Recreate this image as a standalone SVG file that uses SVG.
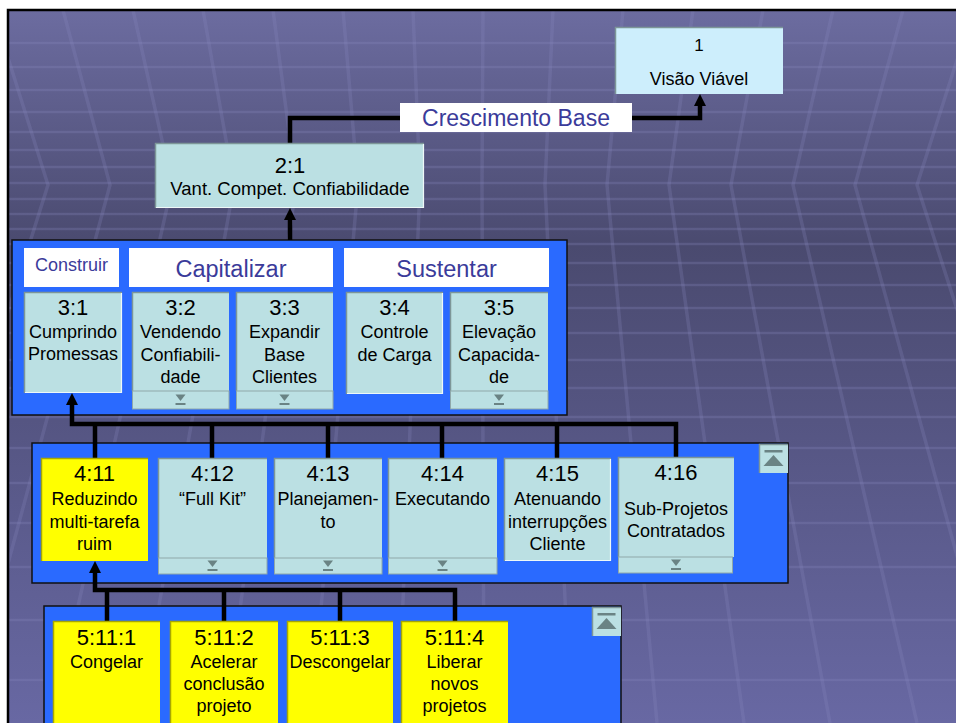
<svg xmlns="http://www.w3.org/2000/svg" width="956" height="723" viewBox="0 0 956 723">
<defs>
<linearGradient id="bg" x1="0" y1="0" x2="0" y2="1">
<stop offset="0" stop-color="#6c6ca0"/>
<stop offset="0.33" stop-color="#4a4a6f"/>
<stop offset="1" stop-color="#6868a3"/>
</linearGradient>
<marker id="arr" markerUnits="userSpaceOnUse" markerWidth="12" markerHeight="12" refX="2" refY="6" orient="auto">
<path d="M0,0 L12,6 L0,12 z" fill="#000"/>
</marker>
<g id="tabmark"><path d="M-5,0 L5,0 L0,6.5 z"/><rect x="-5" y="8.5" width="10" height="2"/></g>
<g id="upmark"><rect x="-9" y="4" width="18" height="2.5"/><path d="M-10,20 L10,20 L0,9 z"/></g>
<clipPath id="slide"><rect x="8" y="10" width="948" height="713"/></clipPath>
</defs>
<style>
.box{fill:#bbe0e3}
.box1{fill:#cdeefc}
.yel{fill:#ffff00}
.ed{fill:none;stroke:#7d9698;stroke-width:1.5}
.el{fill:none;stroke:#eef8f8;stroke-width:1.2}
.edy{fill:none;stroke:#a8a800;stroke-width:1.5}
.tab{fill:#bbe0e3;stroke:#8fa8aa;stroke-width:1}
.mk{fill:#6a8384}
.panel{fill:#2a6aff;stroke:#111;stroke-width:1.5}
.hdr{fill:#fff}
.t{font-family:"Liberation Sans",Arial,Helvetica,sans-serif;text-anchor:middle;fill:#000}
.num{font-size:22px}
.d{font-size:18px}
.h{fill:#3b3b9a}
.conn path{stroke:#000;stroke-width:4.5;fill:none;stroke-linejoin:miter}
.grid line{stroke:#8a8ac0;stroke-opacity:0.28}
</style>

<g id="background">
<rect x="0" y="0" width="956" height="723" fill="#fff"/>
<rect x="8" y="10" width="948" height="713" fill="url(#bg)"/>
<g class="grid" clip-path="url(#slide)" stroke-width="2.5">
<line x1="8" y1="43" x2="956" y2="43"/><line x1="8" y1="67" x2="956" y2="67"/>
<line x1="8" y1="90" x2="956" y2="90"/><line x1="8" y1="112" x2="956" y2="112"/>
<line x1="8" y1="132" x2="956" y2="132"/><line x1="8" y1="150" x2="956" y2="150"/>
<line x1="8" y1="167" x2="956" y2="167"/><line x1="8" y1="183" x2="956" y2="183"/>
<line x1="8" y1="199" x2="956" y2="199"/><line x1="8" y1="214" x2="956" y2="214"/>
<line x1="8" y1="229" x2="956" y2="229"/><line x1="8" y1="244" x2="956" y2="244"/>
<line x1="8" y1="263" x2="956" y2="263"/><line x1="8" y1="285" x2="956" y2="285"/>
<line x1="8" y1="308" x2="956" y2="308"/><line x1="8" y1="333" x2="956" y2="333"/>
<line x1="8" y1="360" x2="956" y2="360"/><line x1="8" y1="388" x2="956" y2="388"/>
<line x1="8" y1="417" x2="956" y2="417"/><line x1="8" y1="448" x2="956" y2="448"/>
<line x1="8" y1="483" x2="956" y2="483"/><line x1="8" y1="523" x2="956" y2="523"/>
<line x1="8" y1="567" x2="956" y2="567"/><line x1="8" y1="620" x2="956" y2="620"/>
<line x1="8" y1="680" x2="956" y2="680"/>
</g>
<g clip-path="url(#slide)" fill="none" stroke="#8a8ac0" stroke-opacity="0.24" stroke-width="3.5">
<polyline points="-7,10 48,185 -122,723"/>
<polyline points="63,10 110,185 -35,723"/>
<polyline points="133,10 172,185 52,723"/>
<polyline points="203,10 234,185 138,723"/>
<polyline points="273,10 296,185 225,723"/>
<polyline points="343,10 358,185 311,723"/>
<polyline points="413,10 420,185 398,723"/>
<polyline points="483,10 482,185 484,723"/>
<polyline points="553,10 545,185 571,723"/>
<polyline points="623,10 607,185 657,723"/>
<polyline points="693,10 669,185 744,723"/>
<polyline points="763,10 731,185 830,723"/>
<polyline points="833,10 793,185 917,723"/>
<polyline points="903,10 855,185 1003,723"/>
<polyline points="973,10 917,185 1090,723"/>
</g>
<path d="M8,723 V10 H956" fill="none" stroke="#000" stroke-width="2.5"/>
</g>

<g id="panel3"><rect class="panel" x="12" y="240" width="555" height="175"/></g>
<g id="panel4"><rect class="panel" x="32" y="443" width="756" height="140"/>
<rect class="box" x="759" y="444" width="29" height="29"/><path class="ed" d="M759.5,473 V444.5 H788"/>
<use href="#upmark" class="mk" x="773.5" y="446"/></g>
<g id="panel5"><rect class="panel" x="44" y="606" width="577" height="130"/>
<rect class="box" x="592" y="607" width="29" height="29"/><path class="ed" d="M592.5,636 V607.5 H621"/>
<use href="#upmark" class="mk" x="606.5" y="609"/></g>

<g id="connectors" class="conn">
<path d="M290,240 V218" marker-end="url(#arr)"/>
<path d="M290,143 V118 H700 V104" marker-end="url(#arr)"/>
<path d="M676,457 V424 H72 V403" marker-end="url(#arr)"/>
<path d="M95,458 V424"/><path d="M212,458 V424"/><path d="M328,458 V424"/>
<path d="M442,458 V424"/><path d="M557,458 V424"/>
<path d="M455,621 V590 H95 V571" marker-end="url(#arr)"/>
<path d="M107,621 V590"/><path d="M224,621 V590"/><path d="M340,621 V590"/>
</g>

<g id="label-crescimento"><rect class="hdr" x="400" y="103" width="232" height="29"/>
<text class="t h" x="516" y="126" font-size="23">Crescimento Base</text></g>

<g id="node-1"><rect class="box1" x="615" y="27" width="168" height="67"/><path class="ed" d="M615.5,94 V27.5 H783"/>
<text class="t" x="699" y="51" font-size="17">1</text>
<text class="t" x="699" y="85" font-size="18">Visão Viável</text></g>

<g id="node-2-1"><rect class="box" x="155" y="143" width="269" height="65"/><path class="ed" d="M155.5,208 V143.5 H424"/><path class="el" d="M156,207.5 H423.5 V144"/>
<text class="t num" x="290" y="173">2:1</text>
<text class="t" x="290" y="195" font-size="18.5">Vant. Compet. Confiabilidade</text></g>

<g id="hdr-construir"><rect class="hdr" x="24" y="248" width="95" height="39"/><text class="t h" x="71.5" y="271" font-size="18">Construir</text></g>
<g id="hdr-capitalizar"><rect class="hdr" x="129" y="248" width="204" height="39"/><text class="t h" x="231" y="277" font-size="23.5">Capitalizar</text></g>
<g id="hdr-sustentar"><rect class="hdr" x="344" y="248" width="205" height="39"/><text class="t h" x="446.5" y="277" font-size="23.5">Sustentar</text></g>

<g id="node-3-1"><rect class="box" x="24" y="292" width="98" height="101"/><path class="ed" d="M24.5,393 V292.5 H122"/><path class="el" d="M25,392.5 H121.5 V293"/>
<text class="t num" x="73" y="315">3:1</text><text class="t d" x="73" y="338">Cumprindo</text><text class="t d" x="73" y="360">Promessas</text></g>

<g id="node-3-2"><rect class="box" x="132" y="292" width="97" height="99"/><path class="ed" d="M132.5,391 V292.5 H229"/>
<rect class="tab" x="132.5" y="391" width="96.5" height="18"/><use href="#tabmark" class="mk" x="180.5" y="394.5"/>
<text class="t num" x="180.5" y="315">3:2</text><text class="t d" x="180.5" y="338">Vendendo</text><text class="t d" x="180.5" y="361">Confiabili-</text><text class="t d" x="180.5" y="383">dade</text></g>

<g id="node-3-3"><rect class="box" x="236" y="292" width="97" height="99"/><path class="ed" d="M236.5,391 V292.5 H333"/>
<rect class="tab" x="236.5" y="391" width="96.5" height="18"/><use href="#tabmark" class="mk" x="284.5" y="394.5"/>
<text class="t num" x="284.5" y="315">3:3</text><text class="t d" x="284.5" y="338">Expandir</text><text class="t d" x="284.5" y="361">Base</text><text class="t d" x="284.5" y="383">Clientes</text></g>

<g id="node-3-4"><rect class="box" x="346" y="292" width="97" height="102"/><path class="ed" d="M346.5,394 V292.5 H443"/><path class="el" d="M347,393.5 H442.5 V293"/>
<text class="t num" x="394.5" y="315">3:4</text><text class="t d" x="394.5" y="338">Controle</text><text class="t d" x="394.5" y="361">de Carga</text></g>

<g id="node-3-5"><rect class="box" x="450" y="292" width="98" height="99"/><path class="ed" d="M450.5,391 V292.5 H548"/>
<rect class="tab" x="450.5" y="391" width="97.5" height="18"/><use href="#tabmark" class="mk" x="499" y="394.5"/>
<text class="t num" x="499" y="315">3:5</text><text class="t d" x="499" y="338">Elevação</text><text class="t d" x="499" y="361">Capacida-</text><text class="t d" x="499" y="383">de</text></g>

<g id="node-4-11"><rect class="yel" x="41" y="458" width="107" height="103"/><path class="edy" d="M41.5,561 V458.5 H148"/>
<text class="t num" x="94.5" y="481">4:11</text><text class="t d" x="94.5" y="505">Reduzindo</text><text class="t d" x="94.5" y="528">multi-tarefa</text><text class="t d" x="94.5" y="550">ruim</text></g>

<g id="node-4-12"><rect class="box" x="158" y="458" width="109" height="100"/><path class="ed" d="M158.5,558 V458.5 H267"/>
<rect class="tab" x="158.5" y="558" width="108.5" height="16"/><use href="#tabmark" class="mk" x="212.5" y="560.5"/>
<text class="t num" x="212.5" y="481">4:12</text><text class="t d" x="212.5" y="505">“Full Kit”</text></g>

<g id="node-4-13"><rect class="box" x="274" y="458" width="108" height="100"/><path class="ed" d="M274.5,558 V458.5 H382"/>
<rect class="tab" x="274.5" y="558" width="107.5" height="16"/><use href="#tabmark" class="mk" x="328" y="560.5"/>
<text class="t num" x="328" y="481">4:13</text><text class="t d" x="328" y="505">Planejamen-</text><text class="t d" x="328" y="528">to</text></g>

<g id="node-4-14"><rect class="box" x="388" y="458" width="109" height="100"/><path class="ed" d="M388.5,558 V458.5 H497"/>
<rect class="tab" x="388.5" y="558" width="108.5" height="16"/><use href="#tabmark" class="mk" x="442.5" y="560.5"/>
<text class="t num" x="442.5" y="481">4:14</text><text class="t d" x="442.5" y="505">Executando</text></g>

<g id="node-4-15"><rect class="box" x="504" y="458" width="107" height="103"/><path class="ed" d="M504.5,561 V458.5 H611"/><path class="el" d="M505,560.5 H610.5 V459"/>
<text class="t num" x="557.5" y="481">4:15</text><text class="t d" x="557.5" y="505">Atenuando</text><text class="t d" x="557.5" y="528">interrupções</text><text class="t d" x="557.5" y="550">Cliente</text></g>

<g id="node-4-16"><rect class="box" x="618" y="457" width="116" height="100"/><path class="ed" d="M618.5,557 V457.5 H734"/>
<rect class="tab" x="618.5" y="557" width="114" height="16"/><use href="#tabmark" class="mk" x="676" y="559.5"/>
<text class="t num" x="676" y="480">4:16</text><text class="t d" x="676" y="515">Sub-Projetos</text><text class="t d" x="676" y="537">Contratados</text></g>

<g id="node-5-11-1"><rect class="yel" x="53" y="621" width="107" height="110"/><path class="edy" d="M53.5,731 V621.5 H160"/>
<text class="t num" x="106.5" y="645">5:11:1</text><text class="t d" x="106.5" y="668">Congelar</text></g>

<g id="node-5-11-2"><rect class="yel" x="170" y="621" width="108" height="110"/><path class="edy" d="M170.5,731 V621.5 H278"/>
<text class="t num" x="224" y="645">5:11:2</text><text class="t d" x="224" y="668">Acelerar</text><text class="t d" x="224" y="690">conclusão</text><text class="t d" x="224" y="712">projeto</text></g>

<g id="node-5-11-3"><rect class="yel" x="287" y="621" width="106" height="110"/><path class="edy" d="M287.5,731 V621.5 H393"/>
<text class="t num" x="340" y="645">5:11:3</text><text class="t d" x="340" y="668">Descongelar</text></g>

<g id="node-5-11-4"><rect class="yel" x="401" y="621" width="107" height="110"/><path class="edy" d="M401.5,731 V621.5 H508"/>
<text class="t num" x="454.5" y="645">5:11:4</text><text class="t d" x="454.5" y="668">Liberar</text><text class="t d" x="454.5" y="690">novos</text><text class="t d" x="454.5" y="712">projetos</text></g>
</svg>
